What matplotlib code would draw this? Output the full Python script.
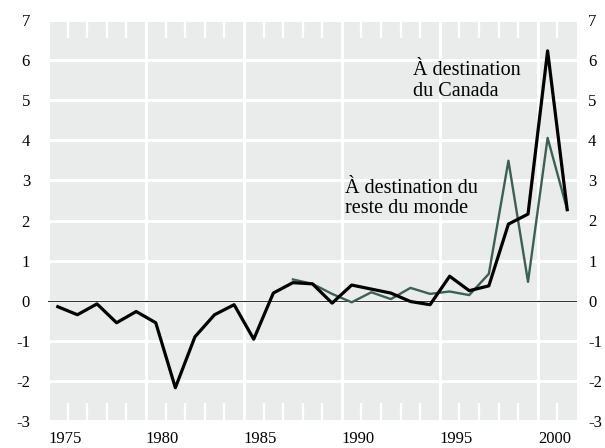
import numpy as np
import matplotlib
matplotlib.use('Agg')
import matplotlib.pyplot as plt

DPI = 100

years = list(range(1975, 2002))
canada = [-0.15, -0.35, -0.08, -0.55, -0.27, -0.55, -2.17, -0.90, -0.35, -0.10,
          -0.96, 0.19, 0.45, 0.42, -0.06, 0.39, 0.29, 0.19, -0.02, -0.10,
          0.61, 0.25, 0.37, 1.91, 2.16, 6.23, 2.27]
reste_years = list(range(1987, 2002))
reste = [0.53, 0.42, 0.17, -0.04, 0.21, 0.04, 0.32, 0.17, 0.23, 0.14,
         0.67, 3.49, 0.47, 4.06, 2.27]

xlabels = ['1975', '1980', '1985', '1990', '1995', '2000']
yticks = list(range(-3, 8))

BG = '#e9eceb'
GREEN = '#3d5f55'
FS = 12

plt.rcParams['font.family'] = ['Liberation Serif', 'DejaVu Serif']
plt.rcParams['axes.unicode_minus'] = False

fig = plt.figure(figsize=(6.05, 4.48), dpi=DPI)
ax = fig.add_axes([48 / 605., 27 / 448., 529 / 605., 401 / 448.])
ax.set_facecolor(BG)
for s in ax.spines.values():
    s.set_visible(False)

ax.set_xlim(1974.5, 2001.5)
ax.set_ylim(-3, 7)

# major: every 5 years at year boundaries, labels sit right of the line
major = [int(l) - 0.5 for l in xlabels]
ax.set_xticks(major)
ax.set_xticklabels(xlabels, ha='left')
minor = [y + 0.5 for y in range(1974, 2001) if (y + 0.5) not in major]
ax.set_xticks(minor, minor=True)
ax.tick_params(axis='x', which='major', length=0, pad=7, labelsize=FS)
ax.tick_params(axis='x', which='minor', direction='in', top=True, bottom=True,
               length=13, width=1.6, color='white')

ax.set_yticks(yticks)
ax.tick_params(axis='y', which='major', length=0, labelsize=FS, pad=13)

# right hand labels, a little closer to the plot
ax2 = ax.twinx()
ax2.set_ylim(-3, 7)
ax2.set_yticks(yticks)
ax2.tick_params(axis='y', length=0, labelsize=FS, pad=8)
for s in ax2.spines.values():
    s.set_visible(False)

ax.grid(True, which='major', color='white', linewidth=2.2)
ax.set_axisbelow(True)

ax.axhline(0, color='#333333', linewidth=0.8, zorder=2)

ax.plot(reste_years, reste, color=GREEN, linewidth=1.7, zorder=3)
ax.plot(years, canada, color='black', linewidth=2.3, zorder=4)

ax.text(1993.14, 5.64, u'\u00c0 destination', fontsize=14.5, va='baseline')
ax.text(1993.14, 5.11, u'du Canada', fontsize=14.5, va='baseline')
ax.text(1989.67, 2.69, u'\u00c0 destination du', fontsize=14.5, va='baseline')
ax.text(1989.67, 2.19, u'reste du monde', fontsize=14.5, va='baseline')

fig.savefig('out.png', dpi=DPI, facecolor='white')
